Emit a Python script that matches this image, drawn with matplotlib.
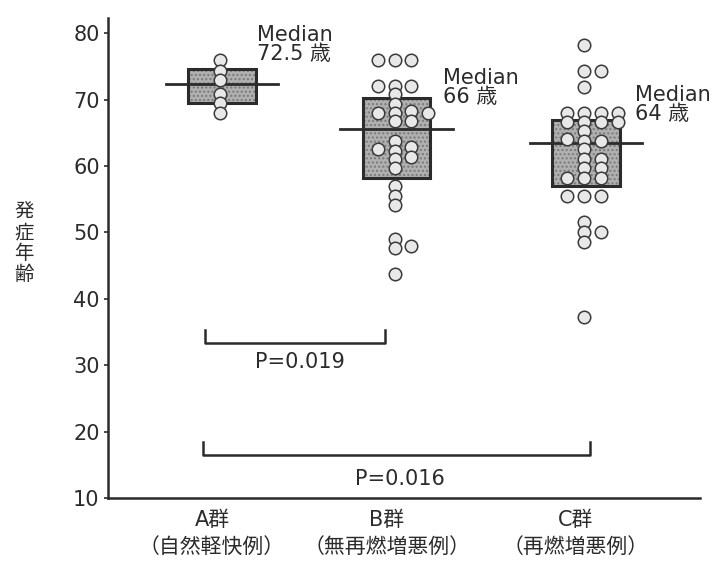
import matplotlib
matplotlib.use("Agg")
import matplotlib.pyplot as plt
from matplotlib.patches import Rectangle

plt.rcParams['font.family'] = ['DejaVu Sans', 'Noto Sans CJK JP']

# グループ名
groups = ['A群\n（自然軽快例）', 'B群\n（無再燃増悪例）', 'C群\n（再燃増悪例）']

# 箱の上下 (四分位) と中央値
q1 = [69.5, 58.2, 57.0]
q3 = [74.6, 70.2, 67.0]
median = [72.3, 65.6, 63.4]
median_label = ['72.5', '66', '64']

# 各症例の発症年齢と横の列番号
a_age = [76, 74.3, 73, 70.8, 69.5, 68]
a_col = [0, 0, 0, 0, 0, 0]

b_age = [76, 76, 76, 72, 72, 72, 70.8, 69.3, 68.0, 66.8, 68.0, 68.3, 66.8, 68.0,
         63.8, 62.3, 61.0, 59.7, 62.5, 62.8, 61.3, 57.0, 55.5, 54.2, 49.0, 47.7,
         48.0, 43.7]
b_col = [-1, 0, 1, -1, 0, 1, 0, 0, 0, 0, -1, 1, 1, 2,
         0, 0, 0, 0, -1, 1, 1, 0, 0, 0, 0, 0,
         1, 0]

c_age = [78.3, 74.3, 74.3, 71.9, 68, 68, 68, 68, 66.7, 66.7, 66.7, 66.7,
         65.3, 63.8, 62.5, 61.0, 59.7, 58.2, 64.0, 58.2, 63.8, 61.0, 59.7, 58.2,
         55.5, 55.5, 55.5, 51.5, 50.0, 48.6, 50.0, 37.2]
c_col = [0, 0, 1, 0, -1, 0, 1, 2, -1, 0, 1, 2,
         0, 0, 0, 0, 0, 0, -1, -1, 1, 1, 1, 1,
         -1, 0, 1, 0, 0, 0, 1, 0]

# 有意差
p_text = ['P=0.019', 'P=0.016']

ages = [a_age, b_age, c_age]
cols = [a_col, b_col, c_col]

xpos = [1, 1.96, 3]
box_w = 0.37
col_step = 0.093
ink = '#2b2b2b'

fig = plt.figure(figsize=(7.13, 5.63), dpi=100)
ax = fig.add_axes([108 / 713, 1 - 498 / 563, 592 / 713, 480 / 563])

for i in range(3):
    x = xpos[i]
    # 箱 (点描っぽく)
    ax.add_patch(Rectangle((x - box_w / 2, q1[i]), box_w, q3[i] - q1[i],
                           facecolor='#b0b0b0', edgecolor='#7a7a7a', hatch='....',
                           linewidth=0, zorder=2))
    ax.add_patch(Rectangle((x - box_w / 2, q1[i]), box_w, q3[i] - q1[i],
                           fill=False, edgecolor=ink, linewidth=2.2, zorder=3))
    # 中央値の線
    ax.plot([x - 0.31, x + 0.31], [median[i], median[i]], color=ink, lw=2, zorder=3)
    # 各症例
    px = [x - 0.012 + c * col_step for c in cols[i]]
    ax.plot(px, ages[i], 'o', ms=9, mfc='#e8e8e8', mec='#3a3a3a', mew=1.1, zorder=4)

# Median の注記
ax.text(1.19, 81.3, 'Median\n' + median_label[0] + ' 歳', fontsize=15, color=ink,
        ha='left', va='top', linespacing=0.95)
ax.text(2.214, 74.8, 'Median\n' + median_label[1] + ' 歳', fontsize=15, color=ink,
        ha='left', va='top', linespacing=0.95)
ax.text(3.27, 72.2, 'Median\n' + median_label[2] + ' 歳', fontsize=15, color=ink,
        ha='left', va='top', linespacing=0.95)

# 検定のブラケット
ax.plot([0.907, 0.907, 1.896, 1.896], [35.3, 33.3, 33.3, 35.3], color=ink, lw=1.8)
ax.text(1.43, 30.5, p_text[0], fontsize=15, color=ink, ha='center', va='center')
ax.plot([0.896, 0.896, 3.02, 3.02], [18.4, 16.5, 16.5, 18.4], color=ink, lw=1.8)
ax.text(1.98, 12.9, p_text[1], fontsize=15, color=ink, ha='center', va='center')

ax.set_xlim(0.374, 3.626)
ax.set_ylim(10, 82.3)
ax.set_yticks([10, 20, 30, 40, 50, 60, 70, 80])
ax.set_xticks([x - 0.055 for x in xpos])
ax.set_xticklabels(groups, fontsize=15, color=ink, linespacing=1.4)
ax.tick_params(axis='x', length=0, pad=9)
ax.tick_params(axis='y', length=3, width=1.2, pad=3, labelsize=15, labelcolor=ink, color=ink)

for s in ['top', 'right']:
    ax.spines[s].set_visible(False)
for s in ['left', 'bottom']:
    ax.spines[s].set_linewidth(1.8)
    ax.spines[s].set_color(ink)

fig.text(24 / 713, 1 - 243 / 563, '発\n症\n年\n齢', fontsize=14, color=ink,
         ha='center', va='center', linespacing=1.12)

fig.savefig('out.png', dpi=100, facecolor='white')
